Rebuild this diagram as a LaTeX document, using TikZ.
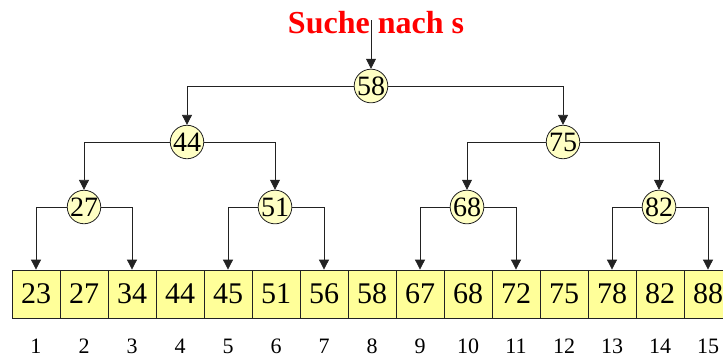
\documentclass[tikz,border=0pt]{standalone}
\usepackage{fontspec}
\setmainfont{Liberation Serif}
\usetikzlibrary{arrows.meta}
\definecolor{cellfill}{HTML}{FFFF99}
\definecolor{knotfill}{HTML}{FFFFC4}
\definecolor{linegray}{HTML}{222222}
\tikzset{
  cell/.style={draw=linegray, line width=0.8pt, fill=cellfill, rectangle,
    minimum width=48pt, minimum height=48pt, inner sep=0pt,
    font=\fontsize{30}{31}\selectfont},
  knot/.style={draw=linegray, line width=0.8pt, fill=knotfill, circle,
    minimum size=32pt, inner sep=0pt, font=\fontsize{28}{29}\selectfont},
  idx/.style={font=\fontsize{22}{23}\selectfont, inner sep=0pt},
  arr/.style={draw=linegray, line width=0.8pt, -{Triangle[length=10pt,width=10pt]}},
}
\begin{document}
\begin{tikzpicture}[x=1pt, y=-1pt]
\useasboundingbox (0,0) rectangle (723,357);

% title
\node[text=red, font=\fontsize{32}{34}\selectfont\bfseries, inner sep=0pt, anchor=base]
  (title) at (376,33) {Suche nach s};
\coordinate (start) at (371,20);

% sorted array with its positions
\foreach \v [count=\i] in {23,27,34,44,45,51,56,58,67,68,72,75,78,82,88} {
  \node[cell] (c\i) at ({36+48*(\i-1)},294) {\v};
  \node[idx] (i\i) at ({36+48*(\i-1)},346) {\i};
}

% search tree
\node[knot] (n58) at (371,86) {58};
\node[knot] (n44) at (187,142) {44};
\node[knot] (n75) at (563,142) {75};
\node[knot] (n27) at (84,207) {27};
\node[knot] (n51) at (275,207) {51};
\node[knot] (n68) at (467,207) {68};
\node[knot] (n82) at (659,207) {82};

\draw[arr] (start) -- (n58.north);
\draw[arr] (n58.west) -| (n44.north);
\draw[arr] (n58.east) -| (n75.north);
\draw[arr] (n44.west) -| (n27.north);
\draw[arr] (n44.east) -| (n51.north);
\draw[arr] (n75.west) -| (n68.north);
\draw[arr] (n75.east) -| (n82.north);
\draw[arr] (n27.west) -| (c1.north);
\draw[arr] (n27.east) -| (c3.north);
\draw[arr] (n51.west) -| (c5.north);
\draw[arr] (n51.east) -| (c7.north);
\draw[arr] (n68.west) -| (c9.north);
\draw[arr] (n68.east) -| (c11.north);
\draw[arr] (n82.west) -| (c13.north);
\draw[arr] (n82.east) -| (c15.north);
\end{tikzpicture}
\end{document}
